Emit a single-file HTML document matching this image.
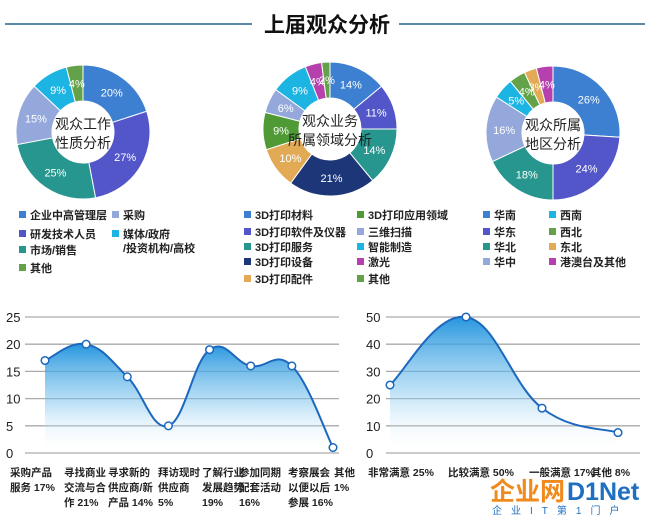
<!DOCTYPE html>
<html><head><meta charset="utf-8">
<style>
body{margin:0;background:#fff;width:648px;height:518px;overflow:hidden;font-family:"Liberation Sans","Noto Sans CJK SC",sans-serif;}
svg{position:absolute;left:0;top:0}
</style></head>
<body>
<svg id="s" width="648" height="518" viewBox="0 0 648 518">
<line x1="5" y1="24" x2="252" y2="24" stroke="#5a88a8" stroke-width="2"/>
<line x1="399" y1="24" x2="645" y2="24" stroke="#5a88a8" stroke-width="2"/>
<text x="327" y="32" text-anchor="middle" font-size="21" font-weight="bold" fill="#111">上届观众分析</text>
<defs>
<linearGradient id="gf" x1="0" y1="0" x2="0" y2="1">
<stop offset="0" stop-color="#1a8fdc" stop-opacity="0.95"/>
<stop offset="0.55" stop-color="#7cc4ee" stop-opacity="0.5"/>
<stop offset="1" stop-color="#ffffff" stop-opacity="0"/>
</linearGradient>
</defs>
<g id="donuts"></g>
<g id="legends"></g>
<g id="lines"></g>
<text x="490" y="500" font-size="25" font-weight="bold" fill="#f08a1c">企业网</text>
<text x="567" y="500" font-size="25" font-weight="bold" fill="#1e6fc0">D1Net</text>
<text x="492" y="514" font-size="10" fill="#1e6fc0" letter-spacing="9">企业IT第1门户</text>
</svg>
<script>
const NS="http://www.w3.org/2000/svg";
function mk(tag,attrs,parent,txt){const e=document.createElementNS(NS,tag);for(const k in attrs)e.setAttribute(k,attrs[k]);if(txt!==undefined)e.textContent=txt;parent.appendChild(e);return e;}
const C={blue:"#3d7fd0",indigo:"#5356c9",teal:"#27968e",navy:"#1c3677",orange:"#e2aa55",green:"#4f9a34",light:"#94a8db",cyan:"#1cb4e2",mag:"#b540ae",green2:"#63a248"};

// donut data
const d1Values=[20,27,25,15,9,4];
const d1Colors=["blue","indigo","teal","light","cyan","green2"];
const d2Values=[14,11,14,21,10,9,6,9,4,2];
const d2Colors=["blue","indigo","teal","navy","orange","green","light","cyan","mag","green2"];
const d3Values=[26,24,18,16,5,4,3,4];
const d3Colors=["blue","indigo","teal","light","cyan","green2","orange","mag"];

const dg=document.getElementById('donuts');
function donut(cx,cy,vals,cols,title,name){
  const g=mk('g',{},dg);
  
  
  const R=67,r=31;const tot=vals.reduce((a,b)=>a+b,0);let a0=-Math.PI/2;
  vals.forEach((v,i)=>{
    const a1=a0+v/tot*2*Math.PI;const lg=(a1-a0)>Math.PI?1:0;
    const p=(rr,a)=>[cx+rr*Math.cos(a),cy+rr*Math.sin(a)];
    const [x0,y0]=p(R,a0),[x1,y1]=p(R,a1),[x2,y2]=p(r,a1),[x3,y3]=p(r,a0);
    const s=mk('path',{d:`M${x0},${y0}A${R},${R} 0 ${lg} 1 ${x1},${y1}L${x2},${y2}A${r},${r} 0 ${lg} 0 ${x3},${y3}Z`,fill:C[cols[i]],stroke:"#fff","stroke-width":"1"},g);
    
    
    const am=(a0+a1)/2;const [tx,ty]=p((R+r)/2,am);
    const t=mk('text',{x:tx,y:ty+4,"text-anchor":"middle","font-size":"11",fill:"#fff"},g,v+"%");
    
    
    a0=a1;
  });
  title.forEach((l,i)=>{const t=mk('text',{x:cx,y:cy-3+i*19,"text-anchor":"middle","font-size":"14",fill:"#222"},g,l);
    
    });
}
donut(83,132,d1Values,d1Colors,["观众工作","性质分析"],"donut-job-nature");
donut(330,129,d2Values,d2Colors,["观众业务","所属领域分析"],"donut-business-field");
donut(553,133,d3Values,d3Colors,["观众所属","地区分析"],"donut-region");

// legends
const legendItems=[
 [19,215,"blue",["企业中高管理层"]],[19,234,"indigo",["研发技术人员"]],[19,250,"teal",["市场/销售"]],[19,268,"green2",["其他"]],
 [112,215,"light",["采购"]],[112,234,"cyan",["媒体/政府","/投资机构/高校"]],
 [244,215,"blue",["3D打印材料"]],[244,232,"indigo",["3D打印软件及仪器"]],[244,247,"teal",["3D打印服务"]],[244,262,"navy",["3D打印设备"]],[244,279,"orange",["3D打印配件"]],
 [357,215,"green",["3D打印应用领域"]],[357,232,"light",["三维扫描"]],[357,247,"cyan",["智能制造"]],[357,262,"mag",["激光"]],[357,279,"green2",["其他"]],
 [483,215,"blue",["华南"]],[483,232,"indigo",["华东"]],[483,247,"teal",["华北"]],[483,262,"light",["华中"]],
 [549,215,"cyan",["西南"]],[549,232,"green2",["西北"]],[549,247,"orange",["东北"]],[549,262,"mag",["港澳台及其他"]]
];
const lg=document.getElementById('legends');
legendItems.forEach(([x,y,c,ls])=>{
  const g=mk('g',{},lg);
  
  
  mk('rect',{x:x,y:y-4,width:7,height:7,fill:C[c]},g);
  ls.forEach((l,i)=>mk('text',{x:x+11,y:y+4+i*14,"font-size":"11",fill:"#222","font-weight":"bold"},g,l));
});

// line charts
const leftValues=[17,20,14,5,19,16,16,1];
const leftLabels=[["采购产品","服务 17%"],["寻找商业","交流与合","作 21%"],["寻求新的","供应商/新","产品 14%"],["拜访现时","供应商","5%"],["了解行业","发展趋势","19%"],["参加同期","配套活动","16%"],["考察展会","以便以后","参展 16%"],["其他","1%"]];
const leftTicks=[0,5,10,15,20,25];
const rightValues=[25,50,16.5,7.5];
const rightLabels=["非常满意 25%","比较满意 50%","一般满意 17%","其他 8%"];
const rightTicks=[0,10,20,30,40,50];

const lgG=document.getElementById('lines');
function smooth(pts){let d=`M${pts[0][0]},${pts[0][1]}`;for(let i=0;i<pts.length-1;i++){const p0=pts[i-1]||pts[i],p1=pts[i],p2=pts[i+1],p3=pts[i+2]||p2;const t=0.2;
 d+=`C${p1[0]+(p2[0]-p0[0])*t},${p1[1]+(p2[1]-p0[1])*t} ${p2[0]-(p3[0]-p1[0])*t},${p2[1]-(p3[1]-p1[1])*t} ${p2[0]},${p2[1]}`;}return d;}
function lineChart(o){
  const g=mk('g',{},lgG);
  
  
  const y0=453,y1=317,max=o.ticks[o.ticks.length-1];
  const ys=v=>y0-(v/max)*(y0-y1);
  const xs=i=>o.xStart+i*(o.xEnd-o.xStart)/(o.values.length-1);
  o.ticks.forEach(t=>{const l=mk('line',{x1:o.gx0,x2:o.gx1,y1:ys(t),y2:ys(t),stroke:"#aaa","stroke-width":"1.3"},g);
    
    
    const tt=mk('text',{x:o.tx,y:ys(t)+5,"font-size":"13",fill:"#222"},g,t);
    
    });
  const pts=o.values.map((v,i)=>[xs(i),ys(v)]);
  const d=smooth(pts);
  const area=mk('path',{d:d+`L${pts[pts.length-1][0]},${y0}L${pts[0][0]},${y0}Z`,fill:"url(#gf)"},g);
  
  
  const ln=mk('path',{d:d,fill:"none",stroke:"#1c68be","stroke-width":"2"},g);
  
  
  pts.forEach(p=>{const c=mk('circle',{cx:p[0],cy:p[1],r:3.8,fill:"#fff",stroke:"#1c68be","stroke-width":"1.5"},g);
    
    });
  o.labels.forEach((ls,i)=>{const arr=Array.isArray(ls)?ls:[ls];arr.forEach((l,j)=>{
    const t=mk('text',{x:o.lx[i],y:476+j*15,"font-size":"10.5",fill:"#222","font-weight":"bold"},g,l);
    
    });});
}
lineChart({name:"line-chart-visit-purpose",values:leftValues,labels:leftLabels,ticks:leftTicks,xStart:45,xEnd:333,gx0:25,gx1:339,tx:6,lx:[10,64,108,158,202,239,288,334]});
lineChart({name:"line-chart-satisfaction",values:rightValues,labels:rightLabels,ticks:rightTicks,xStart:390,xEnd:618,gx0:386,gx1:640,tx:366,lx:[368,448,529,591]});
</script>
</body></html>
